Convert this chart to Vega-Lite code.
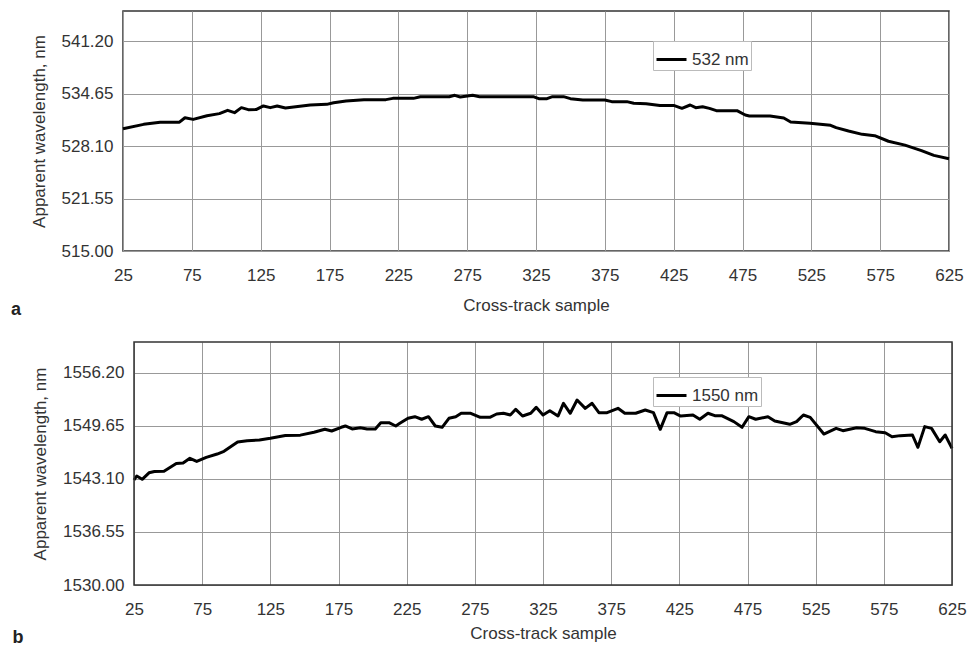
{
  "$schema": "https://vega.github.io/schema/vega-lite/v6.json",
  "padding": {"left": 10, "top": 10, "right": 0, "bottom": 2},
  "background": "white",
  "config": {
    "font": "Liberation Sans",
    "view": {"stroke": "#333", "strokeWidth": 1.5},
    "axis": {"labelFont": "Liberation Sans", "titleFont": "Liberation Sans", "labelFontSize": 17, "titleFontSize": 17, "labelColor": "#333", "titleColor": "#333", "titleFontWeight": "normal", "gridColor": "#999", "gridWidth": 1, "gridOpacity": 1, "domain": false, "ticks": false},
    "legend": {"labelFont": "Liberation Sans", "labelFontSize": 17, "labelColor": "#333"}
  },
  "datasets": {
    "a": [
      {"sample": 25, "wl": 530.29, "series": "532 nm"},
      {"sample": 40, "wl": 530.83, "series": "532 nm"},
      {"sample": 52, "wl": 531.10, "series": "532 nm"},
      {"sample": 66, "wl": 531.10, "series": "532 nm"},
      {"sample": 70, "wl": 531.66, "series": "532 nm"},
      {"sample": 76, "wl": 531.45, "series": "532 nm"},
      {"sample": 86, "wl": 531.90, "series": "532 nm"},
      {"sample": 95, "wl": 532.17, "series": "532 nm"},
      {"sample": 101, "wl": 532.58, "series": "532 nm"},
      {"sample": 106, "wl": 532.29, "series": "532 nm"},
      {"sample": 111, "wl": 532.92, "series": "532 nm"},
      {"sample": 116, "wl": 532.67, "series": "532 nm"},
      {"sample": 122, "wl": 532.70, "series": "532 nm"},
      {"sample": 127, "wl": 533.13, "series": "532 nm"},
      {"sample": 132, "wl": 532.92, "series": "532 nm"},
      {"sample": 137, "wl": 533.13, "series": "532 nm"},
      {"sample": 143, "wl": 532.88, "series": "532 nm"},
      {"sample": 149, "wl": 533.00, "series": "532 nm"},
      {"sample": 161, "wl": 533.25, "series": "532 nm"},
      {"sample": 173, "wl": 533.33, "series": "532 nm"},
      {"sample": 178, "wl": 533.54, "series": "532 nm"},
      {"sample": 187, "wl": 533.75, "series": "532 nm"},
      {"sample": 200, "wl": 533.92, "series": "532 nm"},
      {"sample": 216, "wl": 533.92, "series": "532 nm"},
      {"sample": 221, "wl": 534.08, "series": "532 nm"},
      {"sample": 236, "wl": 534.08, "series": "532 nm"},
      {"sample": 241, "wl": 534.29, "series": "532 nm"},
      {"sample": 262, "wl": 534.29, "series": "532 nm"},
      {"sample": 266, "wl": 534.46, "series": "532 nm"},
      {"sample": 270, "wl": 534.25, "series": "532 nm"},
      {"sample": 279, "wl": 534.46, "series": "532 nm"},
      {"sample": 284, "wl": 534.29, "series": "532 nm"},
      {"sample": 323, "wl": 534.29, "series": "532 nm"},
      {"sample": 327, "wl": 534.04, "series": "532 nm"},
      {"sample": 333, "wl": 534.04, "series": "532 nm"},
      {"sample": 337, "wl": 534.29, "series": "532 nm"},
      {"sample": 345, "wl": 534.29, "series": "532 nm"},
      {"sample": 350, "wl": 534.04, "series": "532 nm"},
      {"sample": 359, "wl": 533.88, "series": "532 nm"},
      {"sample": 375, "wl": 533.88, "series": "532 nm"},
      {"sample": 380, "wl": 533.67, "series": "532 nm"},
      {"sample": 391, "wl": 533.67, "series": "532 nm"},
      {"sample": 396, "wl": 533.46, "series": "532 nm"},
      {"sample": 405, "wl": 533.42, "series": "532 nm"},
      {"sample": 415, "wl": 533.20, "series": "532 nm"},
      {"sample": 425, "wl": 533.20, "series": "532 nm"},
      {"sample": 431, "wl": 532.83, "series": "532 nm"},
      {"sample": 437, "wl": 533.25, "series": "532 nm"},
      {"sample": 441, "wl": 532.92, "series": "532 nm"},
      {"sample": 446, "wl": 533.04, "series": "532 nm"},
      {"sample": 451, "wl": 532.83, "series": "532 nm"},
      {"sample": 456, "wl": 532.54, "series": "532 nm"},
      {"sample": 471, "wl": 532.54, "series": "532 nm"},
      {"sample": 477, "wl": 532.00, "series": "532 nm"},
      {"sample": 480, "wl": 531.88, "series": "532 nm"},
      {"sample": 495, "wl": 531.88, "series": "532 nm"},
      {"sample": 505, "wl": 531.63, "series": "532 nm"},
      {"sample": 510, "wl": 531.13, "series": "532 nm"},
      {"sample": 524, "wl": 530.98, "series": "532 nm"},
      {"sample": 539, "wl": 530.71, "series": "532 nm"},
      {"sample": 543, "wl": 530.42, "series": "532 nm"},
      {"sample": 552, "wl": 530.00, "series": "532 nm"},
      {"sample": 562, "wl": 529.58, "series": "532 nm"},
      {"sample": 571, "wl": 529.42, "series": "532 nm"},
      {"sample": 581, "wl": 528.72, "series": "532 nm"},
      {"sample": 593, "wl": 528.23, "series": "532 nm"},
      {"sample": 605, "wl": 527.55, "series": "532 nm"},
      {"sample": 614, "wl": 526.95, "series": "532 nm"},
      {"sample": 625, "wl": 526.54, "series": "532 nm"}
    ],
    "b": [
      {"sample": 25, "wl": 1542.96, "series": "1550 nm"},
      {"sample": 27, "wl": 1543.46, "series": "1550 nm"},
      {"sample": 31, "wl": 1543.05, "series": "1550 nm"},
      {"sample": 36, "wl": 1543.85, "series": "1550 nm"},
      {"sample": 40, "wl": 1544.02, "series": "1550 nm"},
      {"sample": 47, "wl": 1544.05, "series": "1550 nm"},
      {"sample": 56, "wl": 1545.00, "series": "1550 nm"},
      {"sample": 61, "wl": 1545.05, "series": "1550 nm"},
      {"sample": 66, "wl": 1545.64, "series": "1550 nm"},
      {"sample": 71, "wl": 1545.25, "series": "1550 nm"},
      {"sample": 78, "wl": 1545.76, "series": "1550 nm"},
      {"sample": 86, "wl": 1546.17, "series": "1550 nm"},
      {"sample": 91, "wl": 1546.50, "series": "1550 nm"},
      {"sample": 101, "wl": 1547.65, "series": "1550 nm"},
      {"sample": 108, "wl": 1547.81, "series": "1550 nm"},
      {"sample": 117, "wl": 1547.90, "series": "1550 nm"},
      {"sample": 125, "wl": 1548.11, "series": "1550 nm"},
      {"sample": 136, "wl": 1548.45, "series": "1550 nm"},
      {"sample": 147, "wl": 1548.50, "series": "1550 nm"},
      {"sample": 157, "wl": 1548.85, "series": "1550 nm"},
      {"sample": 165, "wl": 1549.22, "series": "1550 nm"},
      {"sample": 170, "wl": 1549.01, "series": "1550 nm"},
      {"sample": 177, "wl": 1549.47, "series": "1550 nm"},
      {"sample": 180, "wl": 1549.63, "series": "1550 nm"},
      {"sample": 185, "wl": 1549.26, "series": "1550 nm"},
      {"sample": 191, "wl": 1549.42, "series": "1550 nm"},
      {"sample": 196, "wl": 1549.26, "series": "1550 nm"},
      {"sample": 202, "wl": 1549.26, "series": "1550 nm"},
      {"sample": 206, "wl": 1550.04, "series": "1550 nm"},
      {"sample": 212, "wl": 1550.04, "series": "1550 nm"},
      {"sample": 217, "wl": 1549.63, "series": "1550 nm"},
      {"sample": 220, "wl": 1549.96, "series": "1550 nm"},
      {"sample": 226, "wl": 1550.58, "series": "1550 nm"},
      {"sample": 231, "wl": 1550.78, "series": "1550 nm"},
      {"sample": 236, "wl": 1550.46, "series": "1550 nm"},
      {"sample": 241, "wl": 1550.78, "series": "1550 nm"},
      {"sample": 246, "wl": 1549.63, "series": "1550 nm"},
      {"sample": 251, "wl": 1549.47, "series": "1550 nm"},
      {"sample": 256, "wl": 1550.58, "series": "1550 nm"},
      {"sample": 261, "wl": 1550.78, "series": "1550 nm"},
      {"sample": 265, "wl": 1551.20, "series": "1550 nm"},
      {"sample": 272, "wl": 1551.20, "series": "1550 nm"},
      {"sample": 279, "wl": 1550.70, "series": "1550 nm"},
      {"sample": 286, "wl": 1550.70, "series": "1550 nm"},
      {"sample": 291, "wl": 1551.11, "series": "1550 nm"},
      {"sample": 296, "wl": 1551.20, "series": "1550 nm"},
      {"sample": 301, "wl": 1550.99, "series": "1550 nm"},
      {"sample": 305, "wl": 1551.69, "series": "1550 nm"},
      {"sample": 310, "wl": 1550.86, "series": "1550 nm"},
      {"sample": 316, "wl": 1551.20, "series": "1550 nm"},
      {"sample": 320, "wl": 1551.93, "series": "1550 nm"},
      {"sample": 325, "wl": 1550.99, "series": "1550 nm"},
      {"sample": 330, "wl": 1551.52, "series": "1550 nm"},
      {"sample": 336, "wl": 1550.86, "series": "1550 nm"},
      {"sample": 340, "wl": 1552.43, "series": "1550 nm"},
      {"sample": 345, "wl": 1551.20, "series": "1550 nm"},
      {"sample": 350, "wl": 1552.84, "series": "1550 nm"},
      {"sample": 356, "wl": 1551.81, "series": "1550 nm"},
      {"sample": 361, "wl": 1552.43, "series": "1550 nm"},
      {"sample": 366, "wl": 1551.28, "series": "1550 nm"},
      {"sample": 372, "wl": 1551.28, "series": "1550 nm"},
      {"sample": 380, "wl": 1551.81, "series": "1550 nm"},
      {"sample": 385, "wl": 1551.20, "series": "1550 nm"},
      {"sample": 393, "wl": 1551.20, "series": "1550 nm"},
      {"sample": 400, "wl": 1551.60, "series": "1550 nm"},
      {"sample": 406, "wl": 1551.28, "series": "1550 nm"},
      {"sample": 411, "wl": 1549.22, "series": "1550 nm"},
      {"sample": 416, "wl": 1551.28, "series": "1550 nm"},
      {"sample": 421, "wl": 1551.28, "series": "1550 nm"},
      {"sample": 426, "wl": 1550.86, "series": "1550 nm"},
      {"sample": 435, "wl": 1550.99, "series": "1550 nm"},
      {"sample": 440, "wl": 1550.46, "series": "1550 nm"},
      {"sample": 446, "wl": 1551.20, "series": "1550 nm"},
      {"sample": 451, "wl": 1550.90, "series": "1550 nm"},
      {"sample": 456, "wl": 1550.90, "series": "1550 nm"},
      {"sample": 465, "wl": 1550.17, "series": "1550 nm"},
      {"sample": 471, "wl": 1549.47, "series": "1550 nm"},
      {"sample": 476, "wl": 1550.78, "series": "1550 nm"},
      {"sample": 481, "wl": 1550.46, "series": "1550 nm"},
      {"sample": 490, "wl": 1550.78, "series": "1550 nm"},
      {"sample": 495, "wl": 1550.25, "series": "1550 nm"},
      {"sample": 506, "wl": 1549.84, "series": "1550 nm"},
      {"sample": 511, "wl": 1550.17, "series": "1550 nm"},
      {"sample": 516, "wl": 1550.99, "series": "1550 nm"},
      {"sample": 521, "wl": 1550.70, "series": "1550 nm"},
      {"sample": 531, "wl": 1548.64, "series": "1550 nm"},
      {"sample": 540, "wl": 1549.34, "series": "1550 nm"},
      {"sample": 545, "wl": 1549.05, "series": "1550 nm"},
      {"sample": 555, "wl": 1549.42, "series": "1550 nm"},
      {"sample": 561, "wl": 1549.34, "series": "1550 nm"},
      {"sample": 569, "wl": 1548.93, "series": "1550 nm"},
      {"sample": 576, "wl": 1548.80, "series": "1550 nm"},
      {"sample": 581, "wl": 1548.31, "series": "1550 nm"},
      {"sample": 587, "wl": 1548.44, "series": "1550 nm"},
      {"sample": 596, "wl": 1548.52, "series": "1550 nm"},
      {"sample": 600, "wl": 1547.00, "series": "1550 nm"},
      {"sample": 605, "wl": 1549.55, "series": "1550 nm"},
      {"sample": 610, "wl": 1549.34, "series": "1550 nm"},
      {"sample": 616, "wl": 1547.69, "series": "1550 nm"},
      {"sample": 620, "wl": 1548.52, "series": "1550 nm"},
      {"sample": 625, "wl": 1546.87, "series": "1550 nm"}
    ]
  },
  "spacing": 21,
  "resolve": {"scale": {"color": "independent", "x": "independent", "y": "independent"}, "legend": {"color": "independent"}},
  "vconcat": [
    {
      "width": 826,
      "height": 240,
      "data": {"name": "a"},
      "title": {"text": "a", "orient": "bottom", "anchor": "start", "fontSize": 18, "fontWeight": "bold", "color": "#222", "font": "Liberation Sans", "dx": -19, "offset": -12},
      "mark": {"type": "line", "color": "black", "strokeWidth": 3, "strokeJoin": "round"},
      "encoding": {
        "x": {"field": "sample", "type": "quantitative", "scale": {"domain": [25, 625], "nice": false, "zero": false}, "axis": {"values": [25, 75, 125, 175, 225, 275, 325, 375, 425, 475, 525, 575, 625], "labelFlush": false, "labelPadding": 16, "title": "Cross-track sample", "titlePadding": 14}},
        "y": {"field": "wl", "type": "quantitative", "scale": {"domain": [515, 545], "nice": false, "zero": false}, "axis": {"values": [515, 521.55, 528.1, 534.65, 541.2], "format": ".2f", "labelPadding": 10, "title": "Apparent wavelength, nm", "titlePadding": 13}},
        "color": {"field": "series", "type": "nominal", "scale": {"range": ["black"]}, "legend": {"title": null, "orient": "none", "legendX": 530, "legendY": 30, "symbolType": "stroke", "symbolStrokeWidth": 3, "symbolSize": 900, "strokeColor": "#bbb", "fillColor": "white", "padding": 2, "labelOffset": 4}}
      }
    },
    {
      "width": 829,
      "height": 243,
      "data": {"name": "b"},
      "view": {"stroke": null},
      "title": {"text": "b", "orient": "bottom", "anchor": "start", "fontSize": 18, "fontWeight": "bold", "color": "#222", "font": "Liberation Sans", "dx": -19, "offset": -12},
      "encoding": {
        "x": {"field": "sample", "type": "quantitative", "scale": {"domain": [25, 625], "nice": false, "zero": false, "range": [11, 829]}, "axis": {"values": [25, 75, 125, 175, 225, 275, 325, 375, 425, 475, 525, 575, 625], "labelFlush": false, "labelPadding": 16, "title": "Cross-track sample", "titlePadding": 8}},
        "y": {"field": "wl", "type": "quantitative", "scale": {"domain": [1530, 1560], "nice": false, "zero": false}, "axis": {"values": [1530, 1536.55, 1543.1, 1549.65, 1556.2], "format": ".2f", "labelPadding": 10, "offset": -11, "title": "Apparent wavelength, nm", "titlePadding": 13}}
      },
      "layer": [
        {
          "mark": {"type": "line", "color": "black", "strokeWidth": 3, "strokeJoin": "round"},
          "encoding": {
            "color": {"field": "series", "type": "nominal", "scale": {"range": ["black"]}, "legend": {"title": null, "orient": "none", "legendX": 530, "legendY": 35, "symbolType": "stroke", "symbolStrokeWidth": 3, "symbolSize": 900, "strokeColor": "#bbb", "fillColor": "white", "padding": 2, "labelOffset": 4}}
          }
        },
        {
          "data": {"values": [{"x0": 25, "x1": 625, "y0": 1530, "y1": 1560}]},
          "mark": {"type": "rect", "filled": false, "stroke": "#333", "strokeWidth": 1.5},
          "encoding": {
            "x": {"field": "x0", "type": "quantitative"},
            "x2": {"field": "x1"},
            "y": {"field": "y0", "type": "quantitative"},
            "y2": {"field": "y1"}
          }
        }
      ]
    }
  ]
}
